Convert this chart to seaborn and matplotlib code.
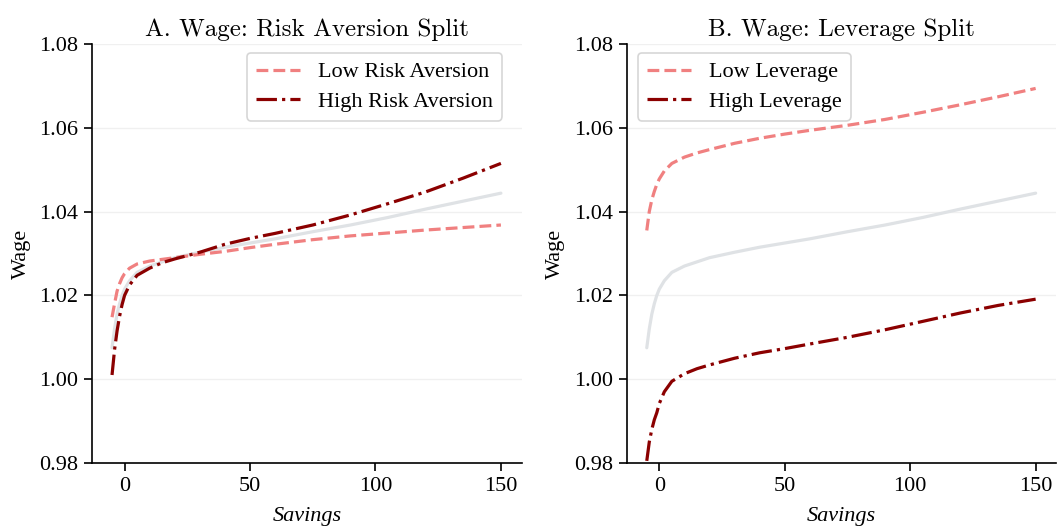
import numpy as np
import pandas as pd
import matplotlib
matplotlib.use("Agg")
import matplotlib.pyplot as plt
import seaborn as sns

savings = [-5, -4, -3, -2, -1, 0, 2, 5, 10, 15, 20, 30, 40, 50, 60, 75, 90, 105, 120, 135, 150]

baseline = [1.0075, 1.0120, 1.0155, 1.0180, 1.0200, 1.0215, 1.0235, 1.0255, 1.0270, 1.0280,
            1.0290, 1.0303, 1.0315, 1.0325, 1.0335, 1.0352, 1.0368, 1.0386, 1.0406, 1.0425, 1.0444]

low_risk = [1.0148, 1.0180, 1.0210, 1.0228, 1.0242, 1.0252, 1.0265, 1.0275, 1.0282, 1.0286,
            1.0290, 1.0298, 1.0305, 1.0314, 1.0322, 1.0333, 1.0342, 1.0349, 1.0356, 1.0362, 1.0368]

high_risk = [1.0010, 1.0070, 1.0115, 1.0150, 1.0178, 1.0200, 1.0225, 1.0248, 1.0265, 1.0278,
             1.0287, 1.0303, 1.0322, 1.0336, 1.0348, 1.0368, 1.0392, 1.0419, 1.0447, 1.0480, 1.0515]

low_lev = [1.0355, 1.0400, 1.0428, 1.0448, 1.0465, 1.0478, 1.0497, 1.0515, 1.0530, 1.0540,
           1.0548, 1.0563, 1.0575, 1.0585, 1.0594, 1.0606, 1.0620, 1.0637, 1.0655, 1.0674, 1.0694]

high_lev = [0.9805, 0.9850, 0.9880, 0.9903, 0.9920, 0.9942, 0.9970, 0.9995, 1.0013, 1.0025,
            1.0034, 1.0050, 1.0063, 1.0073, 1.0084, 1.0100, 1.0118, 1.0138, 1.0158, 1.0176, 1.0191]

titles = ["A. Wage: Risk Aversion Split", "B. Wage: Leverage Split"]
labels_a = ["Low Risk Aversion", "High Risk Aversion"]
labels_b = ["Low Leverage", "High Leverage"]
yticks = [0.98, 1.00, 1.02, 1.04, 1.06, 1.08]
xticks = [0, 50, 100, 150]

sns.set_style("white")
plt.rcParams["font.family"] = ["Liberation Serif", "DejaVu Serif"]
plt.rcParams["mathtext.fontset"] = "cm"
plt.rcParams["axes.unicode_minus"] = False
plt.rcParams["text.color"] = "black"
plt.rcParams["axes.labelcolor"] = "black"
plt.rcParams["xtick.color"] = "black"
plt.rcParams["ytick.color"] = "black"

LOW_C = "#f08080"
HIGH_C = "#8b0000"
BASE_C = "#dfe2e5"

fig = plt.figure(figsize=(10.57, 5.29), dpi=100)
ax1 = fig.add_axes([0.087, 0.1248, 0.4066, 0.792])
ax2 = fig.add_axes([0.5929, 0.1248, 0.4066, 0.792])

panels = [
    (ax1, low_risk, high_risk, labels_a, "upper right", (0.954, 0.9785)),
    (ax2, low_lev, high_lev, labels_b, "upper left", (0.026, 0.9785)),
]

for i, (ax, low, high, labs, loc, anchor) in enumerate(panels):
    df = pd.DataFrame({"Savings": savings, "base": baseline, "low": low, "high": high})
    sns.lineplot(data=df, x="Savings", y="base", ax=ax, color=BASE_C, lw=2.3, label="_nolegend_")
    sns.lineplot(data=df, x="Savings", y="low", ax=ax, color=LOW_C, lw=2.3, linestyle="--", label=labs[0])
    sns.lineplot(data=df, x="Savings", y="high", ax=ax, color=HIGH_C, lw=2.3, linestyle="-.", label=labs[1])
    ax.set_ylim(0.98, 1.08)
    ax.set_xlim(-13, 158.3)
    ax.set_yticks(yticks)
    ax.set_yticklabels([f"{t:.2f}" for t in yticks])
    ax.set_xticks(xticks)
    ax.tick_params(axis="both", labelsize=16, length=6, width=1.2, direction="out",
                   left=True, bottom=True, colors="black", pad=4)
    ax.grid(axis="y", color="#f0f0f0", lw=1)
    ax.set_axisbelow(True)
    for s in ["top", "right"]:
        ax.spines[s].set_visible(False)
    for s in ["left", "bottom"]:
        ax.spines[s].set_color("black")
        ax.spines[s].set_linewidth(1.2)
    ax.set_title(titles[i], fontsize=18, pad=6, family="cmr10", color="black")
    ax.set_xlabel("Savings", fontsize=16, fontstyle="italic", labelpad=8, color="black")
    ax.set_ylabel("Wage", fontsize=16, labelpad=6, color="black")
    leg = ax.legend(loc=loc, bbox_to_anchor=anchor, borderaxespad=0, fontsize=16,
                    frameon=True, fancybox=True, handlelength=2.0, labelspacing=0.4)
    for t in leg.get_texts():
        t.set_color("black")
    leg.get_frame().set_edgecolor("#cccccc")
    leg.get_frame().set_linewidth(1.2)

fig.savefig("out.png", dpi=100)
